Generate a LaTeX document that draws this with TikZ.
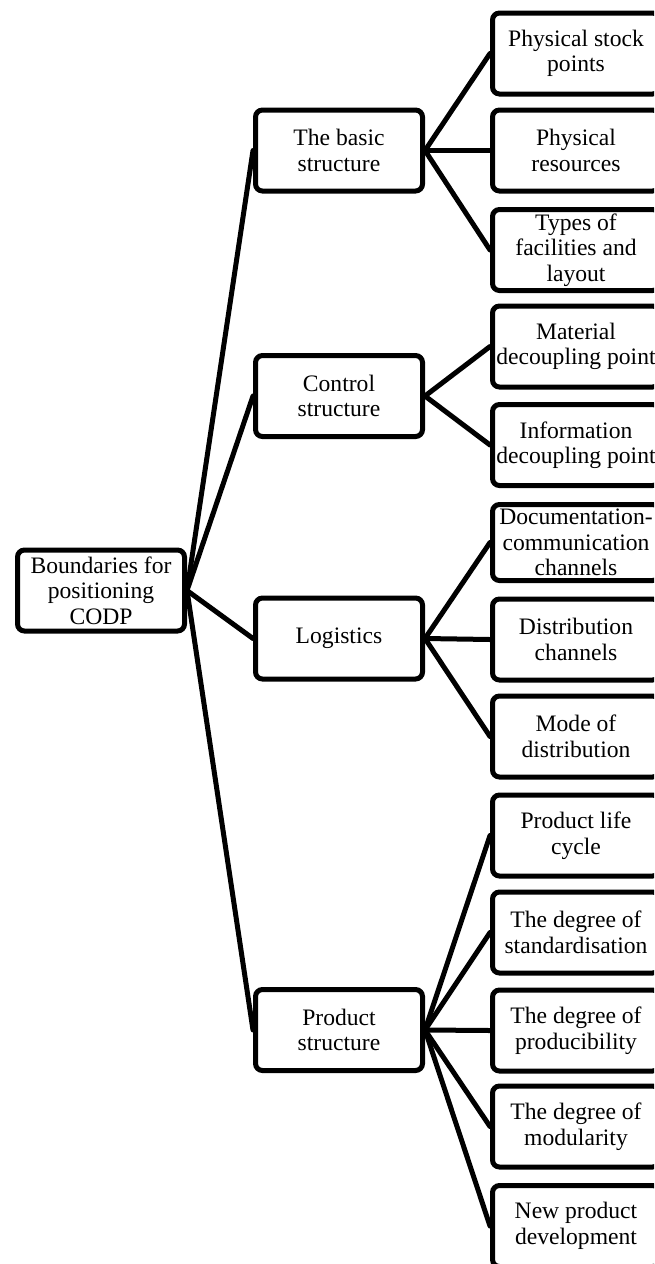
\documentclass[tikz,border=0pt]{standalone}
\usepackage{fontspec}
\setmainfont{Liberation Serif}
\usetikzlibrary{backgrounds}
\begin{document}
\begin{tikzpicture}[x=1pt,y=-1pt,
  box/.style={draw=black, line width=5pt, rounded corners=7pt, fill=white,
    minimum width=167pt, minimum height=81pt, inner sep=2pt, align=center,
    font=\fontsize{23.6}{25.5}\selectfont},
  link/.style={draw=black, line width=5pt, line cap=round}]
\clip (0,0) rectangle (654,1264);
\useasboundingbox (0,0) rectangle (654,1264);

% root
\node[box] (root) at (101,590.5) {Boundaries for\\positioning\\CODP};

% first level
\node[box] (basic) at (339,150.5) {The basic\\structure};
\node[box] (ctrl)  at (339,396) {Control\\structure};
\node[box] (logi)  at (339,638.5) {Logistics};
\node[box] (prod)  at (339,1030) {Product\\structure};

% second level
\node[box] (b1) at (576,53.5)  {Physical stock\\points};
\node[box] (b2) at (576,150.5) {Physical\\resources};
\node[box] (b3) at (576,250)   {Types of\\facilities and\\layout};
\node[box] (c1) at (576,346.5) {Material\\decoupling point};
\node[box] (c2) at (576,445)   {Information\\decoupling point};
\node[box, minimum height=76pt] (l1) at (576,542.5) {Documentation-\\communication\\channels};
\node[box] (l2) at (576,639.5) {Distribution\\channels};
\node[box] (l3) at (576,736.5) {Mode of\\distribution};
\node[box] (p1) at (576,835.5) {Product life\\cycle};
\node[box] (p2) at (576,932.5) {The degree of\\standardisation};
\node[box] (p3) at (576,1030.5){The degree of\\producibility};
\node[box] (p4) at (576,1126.5){The degree of\\modularity};
\node[box] (p5) at (576,1226)  {New product\\development};

% connectors, kept behind the boxes
\begin{scope}[on background layer]
\foreach \t in {basic,ctrl,logi,prod}
  \draw[link] (root.east) -- (\t.west);
\foreach \t in {b1,b2,b3}
  \draw[link] (basic.east) -- (\t.west);
\foreach \t in {c1,c2}
  \draw[link] (ctrl.east) -- (\t.west);
\foreach \t in {l1,l2,l3}
  \draw[link] (logi.east) -- (\t.west);
\foreach \t in {p1,p2,p3,p4,p5}
  \draw[link] (prod.east) -- (\t.west);
\end{scope}
\end{tikzpicture}
\end{document}
